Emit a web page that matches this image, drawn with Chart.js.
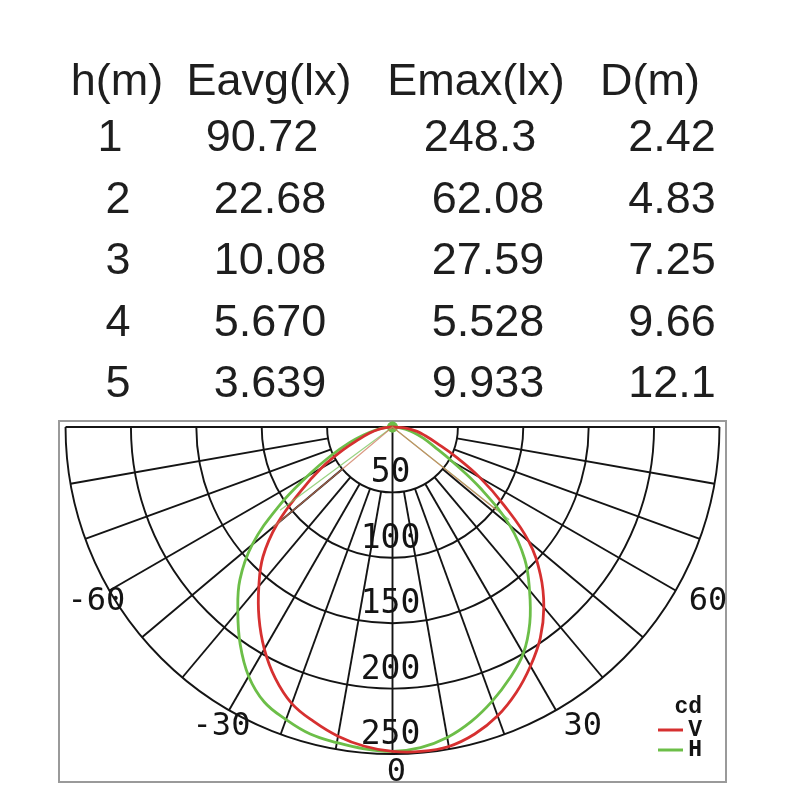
<!DOCTYPE html>
<html>
<head>
<meta charset="utf-8">
<title>Polar intensity curve</title>
<script src="https://cdn.jsdelivr.net/npm/chart.js@4.4.1/dist/chart.umd.min.js"></script>
<style>
  html, body { margin: 0; padding: 0; background: #fff; }
  #wrap { width: 800px; height: 800px; }
</style>
</head>
<body>
<div id="wrap"><canvas id="polar" width="800" height="800"></canvas></div>
<script>
// table above the diagram
const tableHeaders = ['h(m)', 'Eavg(lx)', 'Emax(lx)', 'D(m)'];
const heights = ['1', '2', '3', '4', '5'];
const eavg = ['90.72', '22.68', '10.08', '5.670', '3.639'];
const emax = ['248.3', '62.08', '27.59', '5.528', '9.933'];
const dist = ['2.42', '4.83', '7.25', '9.66', '12.1'];

// intensity (cd) by angle from nadir (deg)
const angles = [-90, -85, -80, -75, -70, -65, -60, -55, -50, -45, -40, -35, -30, -25, -20, -15, -10, -5,
  0, 5, 10, 15, 20, 25, 30, 35, 40, 45, 50, 55, 60, 65, 70, 75, 80, 85, 90];
const cdV = [0, 5, 11, 18, 27, 42, 63, 86, 115, 140, 159, 178, 196, 212, 225, 233, 240, 245,
  248, 249, 248, 243, 235, 224, 211, 197, 180, 160, 136, 104, 77, 53, 36, 26, 19, 11, 0];
const cdH = [0, 6, 13, 22, 35, 52, 75, 107, 140, 165, 184, 203, 220, 232, 238, 243, 245, 247,
  248, 246, 241, 233, 223, 212, 200, 183, 163, 143, 117, 83, 53, 35, 25, 17, 10, 5, 0];

// thin beam-angle lines
const beamAnglesV = [-50, 0, 51.4];
const beamV = [119, 0, 102];
const beamAnglesH = [-53.5, 0, 51.5];
const beamH = [107, 0, 114];

// grid
const rings = [50, 100, 150, 200, 250];
const spokes = [-90, -80, -70, -60, -50, -40, -30, -20, -10, 0, 10, 20, 30, 40, 50, 60, 70, 80, 90];
const angleTicks = [-60, -30, 0, 30, 60];
const unitLabel = 'cd';

const RED = 'rgb(214,48,48)';
const GREEN = 'rgb(108,190,72)';
const INK = '#141414';

function toXY(a, cd) {
  const t = a * Math.PI / 180;
  return { x: cd * Math.sin(t), y: -cd * Math.cos(t) };
}

const polarGrid = {
  id: 'polarGrid',
  beforeDraw(chart) {
    const ctx = chart.ctx;
    ctx.save();
    ctx.fillStyle = '#fff';
    ctx.fillRect(0, 0, chart.width, chart.height);

    // table
    ctx.fillStyle = '#1e1e1e';
    ctx.font = '45px "Liberation Sans", Arial, sans-serif';
    ctx.textAlign = 'center';
    ctx.textBaseline = 'alphabetic';
    const headX = [117, 269, 476, 650];
    const colX = [118, 270, 488, 672];
    tableHeaders.forEach((h, i) => ctx.fillText(h, headX[i], 95));
    const cols = [heights, eavg, emax, dist];
    heights.forEach((_, r) => {
      const nudge = r === 0 ? -8 : 0;
      cols.forEach((col, c) => ctx.fillText(col[r], colX[c] + (c === 3 ? 0 : nudge), 151 + r * 61.5));
    });
    ctx.restore();
  },
  beforeDatasetsDraw(chart) {
    const { ctx, chartArea: ca, scales: { x, y } } = chart;
    const cx = x.getPixelForValue(0);
    const cy = y.getPixelForValue(0);
    const k = x.getPixelForValue(1) - cx;
    const pt = (a, r) => {
      const p = toXY(a, r);
      return [x.getPixelForValue(p.x), y.getPixelForValue(p.y)];
    };
    const rMax = rings[rings.length - 1];

    ctx.save();
    // frame
    ctx.strokeStyle = '#9a9a9a';
    ctx.lineWidth = 2;
    ctx.strokeRect(ca.left, ca.top, ca.width, ca.height);

    // rings
    ctx.strokeStyle = INK;
    ctx.lineWidth = 1.9;
    rings.forEach(v => {
      ctx.beginPath();
      ctx.arc(cx, cy, v * k, 0, Math.PI);
      ctx.stroke();
    });

    // spokes
    spokes.forEach(a => {
      const r0 = (a === 0 || Math.abs(a) === 90) ? 0 : rings[0];
      const p0 = pt(a, r0), p1 = pt(a, rMax);
      ctx.beginPath();
      ctx.moveTo(p0[0], p0[1]);
      ctx.lineTo(p1[0], p1[1]);
      ctx.stroke();
    });

    // ring labels
    ctx.fillStyle = INK;
    ctx.font = '33px "DejaVu Sans Mono", monospace';
    ctx.textAlign = 'center';
    ctx.textBaseline = 'alphabetic';
    rings.forEach(v => {
      ctx.fillText(String(v), cx - 2, y.getPixelForValue(-v) - 10);
    });

    // angle labels
    ctx.font = '32px "DejaVu Sans Mono", monospace';
    angleTicks.forEach(a => {
      const p = pt(a, 342 / k);
      ctx.textAlign = a > 0 ? 'left' : 'center';
      ctx.fillText(String(a), p[0] + (a === 0 ? 4 : 0), p[1] + 11.5);
    });
    ctx.restore();
  },
  afterDatasetsDraw(chart) {
    const ctx = chart.ctx;
    ctx.save();
    ctx.font = 'bold 23px "Liberation Mono", "Courier New", monospace';
    ctx.textAlign = 'right';
    ctx.textBaseline = 'alphabetic';
    ctx.fillStyle = INK;
    ctx.fillText(unitLabel, 702, 713);
    const items = chart.data.datasets.filter(d => d.legend);
    items.forEach((d, i) => {
      const base = 736 + i * 20;
      ctx.fillStyle = INK;
      ctx.fillText(d.label, 702, base);
      ctx.strokeStyle = d.borderColor;
      ctx.lineWidth = 3;
      ctx.beginPath();
      ctx.moveTo(658, base - 6);
      ctx.lineTo(683, base - 6);
      ctx.stroke();
    });
    ctx.restore();
  }
};

const curve = (as, vals) => as.map((a, i) => toXY(a, vals[i]));

new Chart(document.getElementById('polar'), {
  type: 'scatter',
  data: {
    datasets: [
      {
        label: 'beamV',
        data: curve(beamAnglesV, beamV),
        showLine: true,
        borderColor: 'rgba(205,120,90,0.75)',
        borderWidth: 1.3,
        pointRadius: 0
      },
      {
        label: 'beamH',
        data: curve(beamAnglesH, beamH),
        showLine: true,
        borderColor: 'rgba(120,196,90,0.75)',
        borderWidth: 1.3,
        pointRadius: 0
      },
      {
        label: 'V',
        legend: true,
        data: curve(angles, cdV),
        showLine: true,
        borderColor: RED,
        borderWidth: 2.8,
        tension: 0.4,
        pointRadius: 0
      },
      {
        label: 'H',
        legend: true,
        data: curve(angles, cdH),
        showLine: true,
        borderColor: GREEN,
        backgroundColor: GREEN,
        borderWidth: 2.8,
        tension: 0.4,
        pointRadius: ctx => (cdH[ctx.dataIndex] === 0 ? 4 : 0)
      }
    ]
  },
  options: {
    responsive: false,
    animation: false,
    layout: { padding: { left: 59, right: 74, top: 421, bottom: 18 } },
    scales: {
      x: { type: 'linear', min: -255, max: 255, display: false },
      y: { type: 'linear', min: -271.4, max: 4.6, display: false }
    },
    plugins: {
      legend: { display: false },
      tooltip: { enabled: false }
    }
  },
  plugins: [polarGrid]
});
</script>
</body>
</html>
